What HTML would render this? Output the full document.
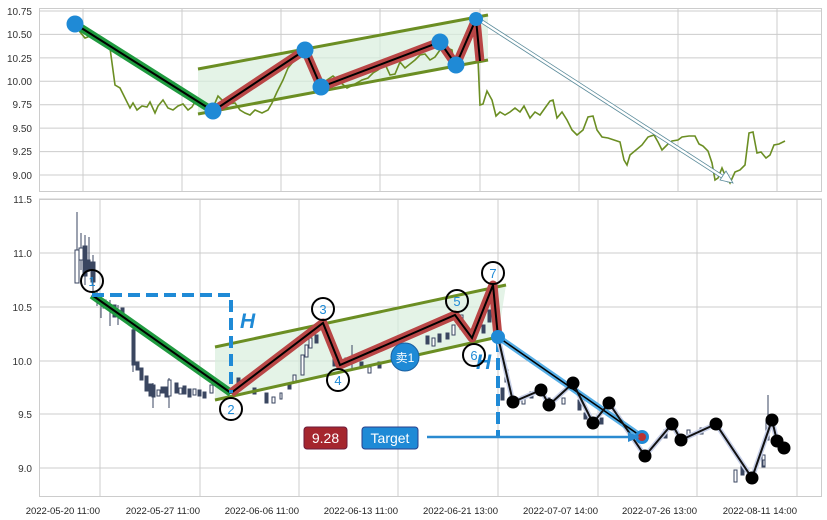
<!DOCTYPE html>
<html><head><meta charset="utf-8"><style>
html,body{margin:0;padding:0;background:#fff;}
svg{display:block;font-family:"Liberation Sans","Noto Sans CJK SC",sans-serif;}
</style></head><body>
<svg width="827" height="520" viewBox="0 0 827 520" xmlns="http://www.w3.org/2000/svg">
<rect width="827" height="520" fill="#fff"/>
<!-- TOP PANEL -->
<g stroke="#cccccc" stroke-width="1">
<line x1="39" y1="11" x2="822" y2="11"/><line x1="39" y1="34.4" x2="822" y2="34.4"/><line x1="39" y1="57.9" x2="822" y2="57.9"/><line x1="39" y1="81.3" x2="822" y2="81.3"/><line x1="39" y1="104.7" x2="822" y2="104.7"/><line x1="39" y1="128.1" x2="822" y2="128.1"/><line x1="39" y1="151.6" x2="822" y2="151.6"/><line x1="39" y1="175" x2="822" y2="175"/>
<line x1="83" y1="8" x2="83" y2="192"/><line x1="182" y1="8" x2="182" y2="192"/><line x1="281" y1="8" x2="281" y2="192"/><line x1="380" y1="8" x2="380" y2="192"/><line x1="480" y1="8" x2="480" y2="192"/><line x1="579" y1="8" x2="579" y2="192"/><line x1="678" y1="8" x2="678" y2="192"/><line x1="777" y1="8" x2="777" y2="192"/>
</g>
<rect x="39.5" y="8.5" width="782" height="183" fill="none" stroke="#cccccc"/>
<g font-size="10" fill="#333" text-anchor="end">
<text x="32" y="15">10.75</text><text x="32" y="38">10.50</text><text x="32" y="62">10.25</text><text x="32" y="85">10.00</text><text x="32" y="108">9.75</text><text x="32" y="132">9.50</text><text x="32" y="155">9.25</text><text x="32" y="179">9.00</text>
</g>
<polygon points="198,69 488,15 488,60 198,114" fill="#d9eedd" opacity="0.7"/>
<polyline fill="none" stroke="#6b8e23" stroke-width="1.6" points="75,24 80,32 85,38 93,35 100,40 110,48 115,85 120,88 125,98 130,108 133,103 137,110 142,106 147,107 150,102 155,113 158,106 163,100 168,108 173,110 178,106 183,104 188,110 192,107 196,100 200,103 205,106 210,108 215,103 218,96 222,100 228,104 235,103 240,110 245,113 250,115 255,110 262,113 268,110 272,103 277,92 283,80 288,68 293,62 297,58 302,55 306,55 310,63 315,80 320,87 327,80 333,76 340,82 347,88 355,84 362,80 368,78 373,73 378,70 385,64 390,75 395,74 400,62 405,68 410,64 415,60 420,55 425,54 430,60 435,57 440,50 447,48 452,50 455,70 458,65 462,45 467,40 472,30 476,19 478,60 480,105 483,104 487,91 492,100 496,116 500,112 505,115 510,112 515,108 520,112 524,106 530,118 535,112 540,115 545,108 550,101 553,100 557,118 562,112 567,120 572,130 577,135 583,130 588,117 593,116 597,130 602,137 608,138 614,140 620,142 624,160 627,165 630,155 636,150 642,145 648,137 654,135 658,142 662,150 668,144 672,141 678,140 682,137 689,136 695,136 699,144 703,146 708,151 712,163 715,180 718,178 722,168 725,175 730,183 735,172 740,170 745,165 749,133 753,132 757,153 761,152 766,158 770,155 774,145 779,144 785,141"/>
<line x1="198" y1="69" x2="488" y2="15" stroke="#6b8e23" stroke-width="3"/>
<line x1="198" y1="114" x2="488" y2="60" stroke="#6b8e23" stroke-width="3"/>
<line x1="75" y1="24" x2="213" y2="111" stroke="#1f9a3f" stroke-width="8"/>
<line x1="75" y1="24" x2="213" y2="111" stroke="#000" stroke-width="2"/>
<polyline fill="none" stroke="#b94646" stroke-width="9" stroke-linejoin="round" points="213,111 305,50 321,87 440,42 456,65 476,19 480,61"/>
<polyline fill="none" stroke="#000" stroke-width="2" points="213,111 305,50 321,87 440,42 456,65 476,19 480,61"/>
<line x1="478" y1="19" x2="729" y2="181" stroke="#5a8a9a" stroke-width="4"/>
<line x1="478" y1="19" x2="729" y2="181" stroke="#fff" stroke-width="2.4"/>
<polygon points="733,183 720,180 726,171" fill="#fff" stroke="#5a8a9a" stroke-width="0.8"/>
<g fill="#1f8ad6"><circle cx="75" cy="24" r="8.5"/><circle cx="213" cy="111" r="8.5"/><circle cx="305" cy="50" r="8.5"/><circle cx="321" cy="87" r="8.5"/><circle cx="440" cy="42" r="8.5"/><circle cx="456" cy="65" r="8.5"/><circle cx="476" cy="19" r="7"/></g>

<!-- BOTTOM PANEL -->
<g stroke="#cccccc" stroke-width="1">
<line x1="39" y1="199" x2="822" y2="199"/><line x1="39" y1="253" x2="822" y2="253"/><line x1="39" y1="307" x2="822" y2="307"/><line x1="39" y1="361" x2="822" y2="361"/><line x1="39" y1="414" x2="822" y2="414"/><line x1="39" y1="468" x2="822" y2="468"/>
<line x1="100" y1="199" x2="100" y2="497"/><line x1="200" y1="199" x2="200" y2="497"/><line x1="299" y1="199" x2="299" y2="497"/><line x1="398" y1="199" x2="398" y2="497"/><line x1="498" y1="199" x2="498" y2="497"/><line x1="598" y1="199" x2="598" y2="497"/><line x1="697" y1="199" x2="697" y2="497"/><line x1="797" y1="199" x2="797" y2="497"/>
</g>
<rect x="39.5" y="199.5" width="782" height="297" fill="none" stroke="#cccccc"/>
<g font-size="10" fill="#333" text-anchor="end">
<text x="32" y="203">11.5</text><text x="32" y="257">11.0</text><text x="32" y="311">10.5</text><text x="32" y="365">10.0</text><text x="32" y="418">9.5</text><text x="32" y="472">9.0</text>
</g>
<g font-size="9.5" fill="#222" text-anchor="end">
<text x="100" y="514">2022-05-20 11:00</text><text x="200" y="514">2022-05-27 11:00</text><text x="299" y="514">2022-06-06 11:00</text><text x="398" y="514">2022-06-13 11:00</text><text x="498" y="514">2022-06-21 13:00</text><text x="598" y="514">2022-07-07 14:00</text><text x="697" y="514">2022-07-26 13:00</text><text x="797" y="514">2022-08-11 14:00</text>
</g>
<polygon points="215,347 506,285 498,337 215,400" fill="#d9eedd" opacity="0.7"/>
<!-- candles -->
<g stroke="#3a4660" stroke-width="1" fill="#3a4660">
<line x1="77" y1="212" x2="77" y2="283"/><rect x="75" y="250" width="4" height="33" fill="#fff"/>
<line x1="81" y1="233" x2="81" y2="270"/><rect x="79" y="248" width="4" height="12" fill="#fff"/>
<line x1="85" y1="235" x2="85" y2="285"/><rect x="83" y="246" width="4" height="30"/>
<line x1="89" y1="237" x2="89" y2="272"/><rect x="87" y="260" width="3" height="10"/>
<line x1="93" y1="255" x2="93" y2="295"/><rect x="91" y="262" width="4" height="20"/>
<line x1="97" y1="290" x2="97" y2="306"/><line x1="101" y1="295" x2="101" y2="318"/><rect x="103" y="300" width="3" height="8"/>
<line x1="110" y1="300" x2="110" y2="326"/><rect x="113" y="305" width="3" height="12"/><line x1="118" y1="305" x2="118" y2="325"/><rect x="121" y="308" width="3" height="8"/>
<rect x="132" y="330" width="3" height="35"/><line x1="133" y1="320" x2="133" y2="372"/>
<rect x="136" y="362" width="3" height="8"/><rect x="140" y="368" width="3" height="12"/><rect x="145" y="376" width="3" height="15"/><rect x="149" y="384" width="3" height="12"/><line x1="153" y1="383" x2="153" y2="408"/><rect x="152" y="385" width="3" height="12"/>
<rect x="157" y="390" width="3" height="6" fill="#fff"/><rect x="161" y="387" width="3" height="6"/><rect x="165" y="387" width="3" height="10"/><line x1="169" y1="378" x2="169" y2="408"/><rect x="168" y="380" width="3" height="16" fill="#fff"/>
<rect x="175" y="383" width="3" height="10"/><rect x="179" y="388" width="3" height="6" fill="#fff"/><rect x="183" y="386" width="3" height="8"/><rect x="188" y="389" width="3" height="8"/><rect x="193" y="389" width="3" height="6" fill="#fff"/><rect x="198" y="390" width="3" height="6"/><rect x="203" y="392" width="3" height="6"/><rect x="210" y="385" width="3" height="8" fill="#fff"/>
<rect x="237" y="378" width="3" height="10"/><rect x="253" y="388" width="3" height="6"/><rect x="265" y="393" width="3" height="10"/><rect x="272" y="397" width="3" height="6" fill="#fff"/><rect x="280" y="393" width="2" height="6" fill="#fff"/><rect x="288" y="383" width="3" height="6"/><rect x="293" y="375" width="3" height="8" fill="#fff"/>
<rect x="301" y="355" width="3" height="20" fill="#fff"/><rect x="305" y="345" width="3" height="12" fill="#fff"/><rect x="309" y="338" width="3" height="10" fill="#fff"/><rect x="315" y="335" width="3" height="8"/>
<rect x="333" y="346" width="3" height="20"/><rect x="345" y="358" width="3" height="6" fill="#fff"/><line x1="352" y1="345" x2="352" y2="370"/><rect x="360" y="362" width="3" height="6"/><rect x="368" y="367" width="3" height="6" fill="#fff"/><rect x="378" y="362" width="3" height="6"/>
<rect x="426" y="336" width="3" height="8"/><rect x="432" y="338" width="3" height="8" fill="#fff"/><rect x="438" y="334" width="3" height="8"/><rect x="446" y="333" width="3" height="6"/><rect x="452" y="325" width="3" height="10" fill="#fff"/><rect x="460" y="315" width="3" height="14" fill="#fff"/><rect x="482" y="325" width="3" height="8"/><rect x="488" y="310" width="3" height="12"/>
<rect x="505" y="370" width="3" height="12"/><rect x="501" y="388" width="3" height="12"/><rect x="522" y="396" width="3" height="8" fill="#fff"/><rect x="530" y="392" width="3" height="6"/><rect x="547" y="398" width="3" height="6"/><rect x="562" y="398" width="3" height="6" fill="#fff"/><rect x="578" y="400" width="3" height="10"/><rect x="584" y="413" width="3" height="6"/><rect x="600" y="418" width="3" height="6"/>
<rect x="664" y="430" width="3" height="8"/><rect x="687" y="430" width="3" height="6" fill="#fff"/><rect x="700" y="428" width="3" height="6" fill="#fff"/><rect x="734" y="470" width="3" height="12" fill="#fff"/><rect x="741" y="465" width="3" height="10"/><rect x="762" y="455" width="3" height="12" fill="#fff"/><line x1="768" y1="395" x2="768" y2="440"/><rect x="766" y="420" width="3" height="20" fill="#fff"/><rect x="763" y="460" width="2" height="6" fill="#fff"/>
</g>
<line x1="215" y1="347" x2="506" y2="285" stroke="#6b8e23" stroke-width="3"/>
<line x1="215" y1="400" x2="498" y2="337" stroke="#6b8e23" stroke-width="3"/>
<line x1="92" y1="295" x2="231" y2="393" stroke="#1f9a3f" stroke-width="8"/>
<line x1="92" y1="295" x2="231" y2="393" stroke="#000" stroke-width="2"/>
<polyline fill="none" stroke="#b94646" stroke-width="9" stroke-linejoin="round" points="231,393 323,323 340,365 455,315 472,338 493,285 498,337"/>
<polyline fill="none" stroke="#000" stroke-width="2" points="231,393 323,323 340,365 455,315 472,338 493,285 498,337"/>
<polyline fill="none" stroke="#1f8ad6" stroke-width="4" stroke-dasharray="12,6" points="92,295 231,295 231,393"/>
<line x1="498" y1="340" x2="498" y2="437" stroke="#1f8ad6" stroke-width="4" stroke-dasharray="12,6"/>
<text x="240" y="328" font-size="21" font-weight="bold" font-style="italic" fill="#1f8ad6">H</text>
<text x="476" y="369" font-size="21" font-weight="bold" font-style="italic" fill="#1f8ad6">H</text>
<!-- descending -->
<polyline fill="none" stroke="#c8d0e8" stroke-width="5" stroke-linejoin="round" points="498,337 513,402 541,390 549,405 573,383 593,423 609,403 645,456 672,424 681,440 716,424 752,478 772,420 777,441 784,448"/>
<line x1="498" y1="337" x2="642" y2="437" stroke="#55aee6" stroke-width="6"/>
<line x1="498" y1="337" x2="642" y2="437" stroke="#000" stroke-width="1.5"/>
<polyline fill="none" stroke="#111" stroke-width="2" points="498,337 513,402 541,390 549,405 573,383 593,423 609,403 645,456 672,424 681,440 716,424 752,478 772,420 777,441 784,448"/>
<circle cx="498" cy="337" r="7" fill="#1f8ad6"/>
<circle cx="642" cy="437" r="7" fill="#1f8ad6"/><circle cx="642" cy="437" r="4" fill="#b93232"/>
<g fill="#000"><circle cx="513" cy="402" r="6.5"/><circle cx="541" cy="390" r="6.5"/><circle cx="549" cy="405" r="6.5"/><circle cx="573" cy="383" r="6.5"/><circle cx="593" cy="423" r="6.5"/><circle cx="609" cy="403" r="6.5"/><circle cx="645" cy="456" r="6.5"/><circle cx="672" cy="424" r="6.5"/><circle cx="681" cy="440" r="6.5"/><circle cx="716" cy="424" r="6.5"/><circle cx="752" cy="478" r="6.5"/><circle cx="772" cy="420" r="6.5"/><circle cx="777" cy="441" r="6.5"/><circle cx="784" cy="448" r="6.5"/></g>
<!-- numbered circles -->
<g fill="none" stroke="#000" stroke-width="2"><circle cx="92" cy="281" r="11"/><circle cx="231" cy="409" r="11"/><circle cx="323" cy="309" r="11"/><circle cx="338" cy="380" r="11"/><circle cx="457" cy="301" r="11"/><circle cx="474" cy="355" r="11"/><circle cx="493" cy="273" r="11"/></g>
<g font-size="13" fill="#1f8ad6" text-anchor="middle"><text x="92" y="286">1</text><text x="231" y="414">2</text><text x="323" y="314">3</text><text x="338" y="385">4</text><text x="457" y="306">5</text><text x="474" y="360">6</text><text x="493" y="278">7</text></g>
<circle cx="405" cy="357" r="14" fill="#1f8ad6" stroke="#1a5fa0" stroke-width="1"/>
<text x="405" y="362" font-size="12" fill="#fff" text-anchor="middle">卖1</text>
<rect x="304" y="427" width="43" height="22" rx="3" fill="#a5262e" stroke="#6b1a3a"/>
<text x="325.5" y="443" font-size="14" fill="#fff" text-anchor="middle">9.28</text>
<rect x="362" y="427" width="56" height="22" rx="3" fill="#1f8ad6" stroke="#2a3f8a"/>
<text x="390" y="443" font-size="14" fill="#fff" text-anchor="middle">Target</text>
<line x1="427" y1="437" x2="632" y2="437" stroke="#2a8ad0" stroke-width="2.5"/>
<polygon points="640,437 628,432 628,442" fill="#2a8ad0"/>
</svg>
</body></html>
